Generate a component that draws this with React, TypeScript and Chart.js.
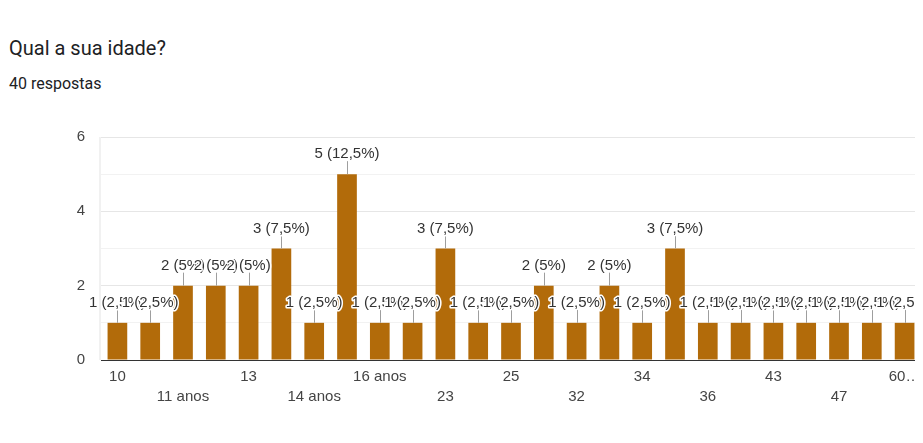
import React, { useEffect, useRef } from 'react';
import { Chart, registerables } from 'chart.js';

Chart.register(...registerables);

const categories = ['10', '11', '11 anos', '12', '13', '14', '14 anos', '15', '16 anos', '18', '23', '24', '25', '30', '32', '33', '34', '35', '36', '40', '43', '45', '47', '50', '60…'];
const counts = [1, 1, 2, 2, 2, 3, 1, 5, 1, 1, 3, 1, 1, 2, 1, 2, 1, 3, 1, 1, 1, 1, 1, 1, 1];
const yTickLabels = [0, 2, 4, 6];
const totalResponses = 40;
const titleText = 'Qual a sua idade?';
const subtitleText = '40 respostas';

const FONT = 'Arial, "Liberation Sans", sans-serif';
const BAR_COLOR = '#b26b0a';

const labelPlugin = {
  id: 'barLabels',
  beforeDatasetsDraw(chart: any) {
    const { ctx, chartArea } = chart;
    ctx.save();
    ctx.strokeStyle = '#ededed';
    ctx.lineWidth = 1.5;
    ctx.beginPath();
    ctx.moveTo(chartArea.left - 1, chartArea.top);
    ctx.lineTo(chartArea.left - 1, chartArea.bottom);
    ctx.moveTo(chartArea.right + 0.5, chartArea.top);
    ctx.lineTo(chartArea.right + 0.5, chartArea.bottom);
    ctx.stroke();
    ctx.restore();
  },
  afterDatasetsDraw(chart: any) {
    const ctx = chart.ctx;
    const meta = chart.getDatasetMeta(0);
    ctx.save();
    ctx.font = `15px ${FONT}`;
    ctx.textAlign = 'center';
    ctx.textBaseline = 'middle';
    meta.data.forEach((el: any, i: number) => {
      const v = counts[i];
      const pct = String(Math.round((v / totalResponses) * 1000) / 10).replace('.', ',');
      const text = `${v} (${pct}%)`;
      const x = el.x;
      const top = el.y;
      const lx = Math.round(x) + 0.5;
      ctx.strokeStyle = '#9e9e9e';
      ctx.lineWidth = 1;
      ctx.beginPath();
      ctx.moveTo(lx, top);
      ctx.lineTo(lx, top - 13);
      ctx.stroke();
      ctx.lineWidth = 3;
      ctx.lineJoin = 'round';
      ctx.strokeStyle = '#ffffff';
      ctx.strokeText(text, x, top - 20);
      ctx.fillStyle = '#333333';
      ctx.fillText(text, x, top - 20);
    });
    ctx.restore();
  },
};

function BarChart() {
  const canvasRef = useRef<HTMLCanvasElement | null>(null);

  useEffect(() => {
    if (!canvasRef.current) return;
    const chart = new Chart(canvasRef.current, {
      type: 'bar',
      data: {
        labels: categories,
        datasets: [
          {
            data: counts,
            backgroundColor: BAR_COLOR,
            borderWidth: 0,
            barPercentage: 0.6,
            categoryPercentage: 1,
          },
        ],
      },
      options: {
        animation: false,
        responsive: false,
        maintainAspectRatio: false,
        layout: { padding: { top: 37, right: 2, left: 0, bottom: 0 } },
        plugins: {
          legend: { display: false },
          tooltip: { enabled: false },
        },
        scales: {
          x: {
            grid: { display: false, drawTicks: false },
            border: { display: false },
            ticks: {
              autoSkip: false,
              maxRotation: 0,
              minRotation: 0,
              padding: 7,
              color: '#444444',
              font: { family: FONT, size: 15, lineHeight: 20 / 15 },
              callback: (_v: any, index: number) => {
                if (index % 2 === 1) return '';
                return index % 4 === 0 ? categories[index] : ['', categories[index]];
              },
            },
            afterFit: (s: any) => {
              s.height = 83;
              s.paddingLeft = 0;
              s.paddingRight = 0;
            },
          },
          y: {
            min: 0,
            max: 6,
            grid: {
              drawTicks: false,
              color: (c: any) =>
                c.tick && c.tick.value === 0 ? '#333333' : c.tick && c.tick.value % 2 === 0 ? '#e6e6e6' : '#f2f2f2',
              lineWidth: 1,
            },
            border: { display: false },
            ticks: {
              stepSize: 1,
              padding: 16,
              color: '#444444',
              font: { family: FONT, size: 15 },
              callback: (v: any) => (yTickLabels.includes(Number(v)) ? String(v) : ''),
            },
            afterFit: (s: any) => {
              s.width = 101;
            },
          },
        },
      },
      plugins: [labelPlugin],
    });
    return () => chart.destroy();
  }, []);

  return (
    <canvas
      ref={canvasRef}
      width={923}
      height={343}
      style={{ position: 'absolute', left: 0, top: 100, width: 923, height: 343 }}
    />
  );
}

export default function App() {
  return (
    <div
      style={{
        position: 'relative',
        width: 923,
        height: 443,
        margin: -8,
        background: '#ffffff',
        overflow: 'hidden',
      }}
    >
      <div
        style={{
          position: 'absolute',
          left: 9,
          top: 38,
          fontFamily: 'Roboto, Arial, sans-serif',
          fontSize: 20,
          lineHeight: '20px',
          color: '#202124',
          whiteSpace: 'nowrap',
        }}
      >
        {titleText}
      </div>
      <div
        style={{
          position: 'absolute',
          left: 9,
          top: 76,
          fontFamily: 'Roboto, Arial, sans-serif',
          fontSize: 16,
          lineHeight: '16px',
          color: '#202124',
          whiteSpace: 'nowrap',
        }}
      >
        {subtitleText}
      </div>
      <BarChart />
    </div>
  );
}
